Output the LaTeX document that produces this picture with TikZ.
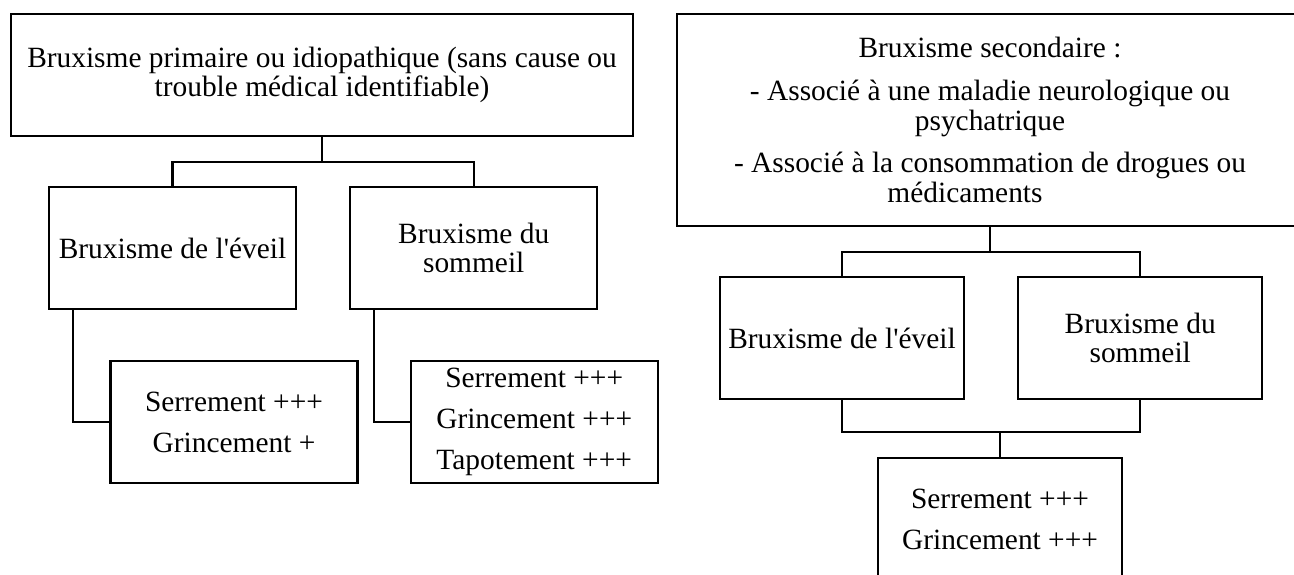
\documentclass[tikz,border=0pt]{standalone}
\usepackage{fontspec}
\setmainfont{Liberation Serif}
\usetikzlibrary{positioning}

\begin{document}
\begin{tikzpicture}[
            x=0.5pt, y=-0.5pt,
            box/.style={draw, line width=1.1pt, inner sep=0pt, align=center, font=\fontsize{14.7}{14.8}\selectfont},
            bigbox/.style={box, minimum width=311pt, minimum height=61pt},
            smallbox/.style={box, minimum width=123.5pt, minimum height=61pt},
            link/.style={line width=1.1pt}
        ]

        \useasboundingbox (0,0) rectangle (1294,574);
        \clip (0,0) rectangle (1294,574);

        % left tree
        \node[bigbox] (prim) at (322,75) {Bruxisme primaire ou idiopathique (sans cause ou\\ trouble médical identifiable)};

        \node[smallbox] (eveilA) at (172.5,248) {Bruxisme de l\textquotesingle éveil};
        \node[smallbox, right=26pt of eveilA] (sommeilA) {Bruxisme du\\ sommeil};

        \node[smallbox] (signesA) at (234,422) {Serrement +++\\[5.8pt] Grincement +};
        \node[smallbox, right=25.5pt of signesA] (signesB) {Serrement +++\\[5.8pt] Grincement +++\\[5.8pt] Tapotement +++};

        \coordinate (jA) at (322,162);
        \draw[link] (prim.south) -- (jA);
        \draw[link] (eveilA.north) |- (jA) -| (sommeilA.north);

        \draw[link] ([xshift=12.5pt]eveilA.south west) |- (signesA.west);
        \draw[link] ([xshift=12.5pt]sommeilA.south west) |- (signesB.west);

        % right tree
        \node[box, minimum width=313pt, minimum height=106pt] (sec) at (990,120) {
            Bruxisme secondaire :\\[6.5pt]
            - Associé à une maladie neurologique ou\\
            psychatrique\\[6.5pt]
            - Associé à la consommation de drogues ou\\
            médicaments\hspace*{25pt}
        };

        \node[smallbox, minimum width=122pt] (eveilB) at (842,338) {Bruxisme de l\textquotesingle éveil};
        \node[smallbox, minimum width=122pt, right=26pt of eveilB] (sommeilB) {Bruxisme du\\ sommeil};

        \node[smallbox, minimum width=122pt] (signesC) at (1000,519) {Serrement +++\\[5.8pt] Grincement +++};

        \coordinate (jB) at (990,252);
        \draw[link] (sec.south) -- (jB);
        \draw[link] (eveilB.north) |- (jB) -| (sommeilB.north);

        \coordinate (jC) at (1000,432);
        \draw[link] (eveilB.south) |- (jC) -| (sommeilB.south);
        \draw[link] (jC) -- (signesC.north);

    \end{tikzpicture}
\end{document}
